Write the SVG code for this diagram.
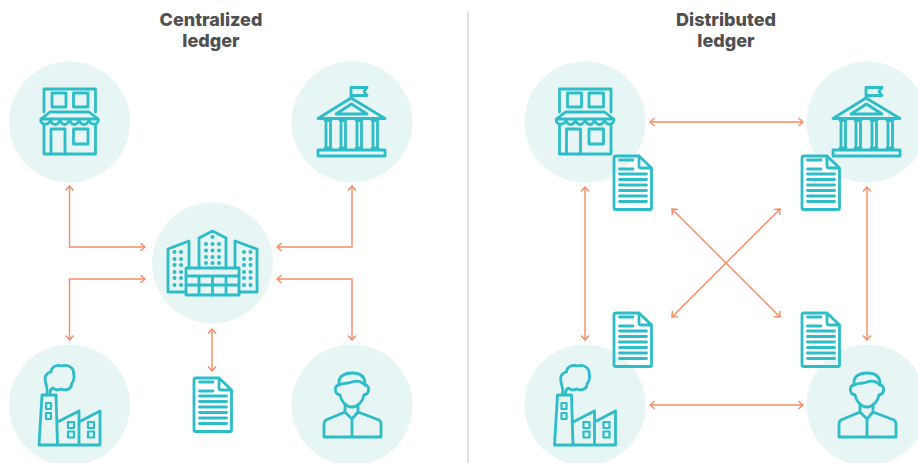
<svg xmlns="http://www.w3.org/2000/svg" width="918" height="463" viewBox="0 0 918 463">
<style>
.bg{fill:#e7f5f5}
.ic{fill:none;stroke:#2dbdc8;stroke-width:2.8;stroke-linejoin:round;stroke-linecap:round}
.thin{stroke-width:2.2}
.dot{fill:#2dbdc8}
.cn{fill:none;stroke:#f58a65;stroke-width:1.4;marker-start:url(#ah);marker-end:url(#ah)}
.t{font-family:Inter,"Liberation Sans",sans-serif;font-weight:800;font-size:18px;fill:#505050;text-anchor:middle}
</style>
<defs>
<marker id="ah" viewBox="-6 -5 7 10" refX="0" refY="0" markerWidth="7" markerHeight="10" markerUnits="userSpaceOnUse" orient="auto-start-reverse">
<path d="M-4.500 -4 L0 0 L-4.500 4" fill="none" stroke="#f58a65" stroke-width="1.400"/>
</marker>
<g id="store">
<path class="ic" d="M44 112V89H95.500V112M44 125V154H95.500V125M50 112H89L98 119H41Z"/>
<rect class="ic" x="52" y="93" width="14" height="14"/>
<rect class="ic" x="73.500" y="93" width="14.500" height="14"/>
<path class="ic" d="M41 119C39 124 48 127 50.500 120C52 126 58 126 60 120C62 126 67 126 69.500 120C72 126 77 126 79 120C81 126 87 126 89 120C91 127 100 124 98 119"/>
<path class="ic" d="M51 154V129H65V154"/>
<rect class="ic" x="73.500" y="129" width="14.500" height="15"/>
</g>
<g id="bank">
<path class="ic" d="M351 98V87.500H367L364 91.500L367 95.500H351"/>
<path class="ic" d="M318 118.500L351 98L385 118.500Z"/>
<path class="ic" d="M336 114H367L351.500 104Z"/>
<path class="ic" d="M325 120.500H331M326 123V146M330.500 123V146M325 148H331M340 120.500H346M341 123V146M345.500 123V146M340 148H346M356 120.500H362M357 123V146M361.500 123V146M356 148H362M372 120.500H378M373 123V146M377.500 123V146M372 148H378"/>
<rect class="ic" x="318" y="150" width="67" height="6"/>
</g>
<g id="building">
<path class="ic" d="M186 292H168V249L189 241V268M199 268V238L212.500 231L226 238V268M235 268V241L257 249V292H239"/>
<rect class="ic" x="186" y="268" width="53" height="27"/>
<path class="ic" d="M186 276H239M186 285H239M199 276V295M212.500 276V295M226 276V295"/>
<g class="dot">
<circle cx="174.500" cy="252" r="2"/><circle cx="181" cy="252" r="2"/><circle cx="174.500" cy="259" r="2"/><circle cx="181" cy="259" r="2"/><circle cx="174.500" cy="265" r="2"/><circle cx="181" cy="265" r="2"/><circle cx="174.500" cy="272" r="2"/><circle cx="181" cy="272" r="2"/><circle cx="174.500" cy="278" r="2"/><circle cx="181" cy="278" r="2"/><circle cx="174.500" cy="285" r="2"/><circle cx="181" cy="285" r="2"/>
<circle cx="244" cy="252" r="2"/><circle cx="250.500" cy="252" r="2"/><circle cx="244" cy="259" r="2"/><circle cx="250.500" cy="259" r="2"/><circle cx="244" cy="265" r="2"/><circle cx="250.500" cy="265" r="2"/><circle cx="244" cy="272" r="2"/><circle cx="250.500" cy="272" r="2"/><circle cx="244" cy="278" r="2"/><circle cx="250.500" cy="278" r="2"/><circle cx="244" cy="285" r="2"/><circle cx="250.500" cy="285" r="2"/>
<circle cx="212.500" cy="237" r="2"/>
<circle cx="206" cy="244" r="2"/><circle cx="212.500" cy="244" r="2"/><circle cx="219" cy="244" r="2"/><circle cx="206" cy="250.500" r="2"/><circle cx="212.500" cy="250.500" r="2"/><circle cx="219" cy="250.500" r="2"/><circle cx="206" cy="257" r="2"/><circle cx="212.500" cy="257" r="2"/><circle cx="219" cy="257" r="2"/><circle cx="206" cy="263" r="2"/><circle cx="212.500" cy="263" r="2"/><circle cx="219" cy="263" r="2"/>
</g>
</g>
<g id="factory">
<path class="ic" d="M39 445L42 395H56L57.500 445M39 445H100V411L79 422V445M79 411V422M79 411L57.500 422"/>
<rect class="ic thin" x="46" y="403" width="5" height="6"/>
<rect class="ic thin" x="46" y="413" width="5" height="6"/>
<rect class="ic thin" x="68" y="422" width="6" height="6"/>
<rect class="ic thin" x="68" y="431.500" width="6" height="6"/>
<rect class="ic thin" x="88" y="422" width="6" height="6"/>
<rect class="ic thin" x="88" y="431.500" width="6" height="6"/>
<path class="ic" d="M47 393C48 388 46 386 45.500 382C44 377 46 373 51 372C51 367 57 364 62 366C68 364 74 368 73.500 373C75 378 73 382 71.500 384C72 389 66 391 61 389C57 391 54 389 53 388C51 389 50 391 50 393"/>
</g>
<g id="person">
<path class="ic" d="M339 385V382C339 376 345 373 352 373C360 373 365 376 365 384V385C362 382 357 380 352 382C347 384 342 383 339 385Z"/>
<path class="ic" d="M339 385C334 385 334 394 340 395C341 401 346 407 352 407C358 407 363 401 364 395C370 394 370 385 365 385"/>
<path class="ic" d="M345 405V412L326 420C324.500 421 324 422 324 424V437H381V424C381 422 380.500 421 379 420L358 412V405M345 412L352 419L358 412M352 419V437"/>
</g>
<g id="doc">
<path class="ic" d="M219 378H196C194.500 378 194 378.500 194 380V430C194 431 194.500 431.500 196 431.500H230C231 431.500 231.500 431 231.500 430V390L219 378V388C219 389.500 220 390 221 390H231.500"/>
<path class="ic" d="M199.500 382H213M199.500 391H213M199.500 396H226.500M199.500 401.500H226.500M199.500 407H226.500M199.500 412.500H226.500M199.500 418H226.500M199.500 423.500H226.500"/>
</g>
</defs>
<rect width="918" height="463" fill="#fff"/>
<g id="titles">
<text class="t" x="211" y="25.500">Centralized</text>
<text class="t" x="211" y="46.500">ledger</text>
<text class="t" x="726" y="25.500">Distributed</text>
<text class="t" x="726" y="46.500">ledger</text>
</g>
<path id="divider" d="M468 12V463" stroke="#d4d4d4" stroke-width="1.500" fill="none"/>
<g id="connectors">
<path class="cn" d="M69.500 186V247H145"/>
<path class="cn" d="M352 186V247H277"/>
<path class="cn" d="M145 279H69.500V340"/>
<path class="cn" d="M277 279H352V340"/>
<path class="cn" d="M212 329V371"/>
<path class="cn" d="M650 122H803"/>
<path class="cn" d="M650 405H803"/>
<path class="cn" d="M585 187V340"/>
<path class="cn" d="M867 187V340"/>
<path class="cn" d="M672 209L780 317"/>
<path class="cn" d="M780 209L672 317"/>
</g>
<g id="left-store"><circle class="bg" cx="69.500" cy="122" r="60.500"/><use href="#store"/></g>
<g id="left-bank"><circle class="bg" cx="352" cy="122" r="60.500"/><use href="#bank"/></g>
<g id="left-hub"><circle class="bg" cx="212.500" cy="263" r="60.500"/><use href="#building"/></g>
<g id="left-factory"><circle class="bg" cx="69.500" cy="405" r="60.500"/><use href="#factory"/></g>
<g id="left-person"><circle class="bg" cx="352" cy="405" r="60.500"/><use href="#person"/></g>
<g id="left-doc"><use href="#doc"/></g>
<g id="right-store"><circle class="bg" cx="585" cy="122" r="60.500"/><use href="#store" x="515.500"/></g>
<g id="right-bank"><circle class="bg" cx="867" cy="122" r="60.500"/><use href="#bank" x="515"/></g>
<g id="right-factory"><circle class="bg" cx="585" cy="405" r="60.500"/><use href="#factory" x="515.500"/></g>
<g id="right-person"><circle class="bg" cx="867" cy="405" r="60.500"/><use href="#person" x="515"/></g>
<g id="doc-tl"><use href="#doc" x="420" y="-222"/></g>
<g id="doc-tr"><use href="#doc" x="608" y="-222"/></g>
<g id="doc-bl"><use href="#doc" x="420" y="-65"/></g>
<g id="doc-br"><use href="#doc" x="608" y="-65"/></g>
</svg>
